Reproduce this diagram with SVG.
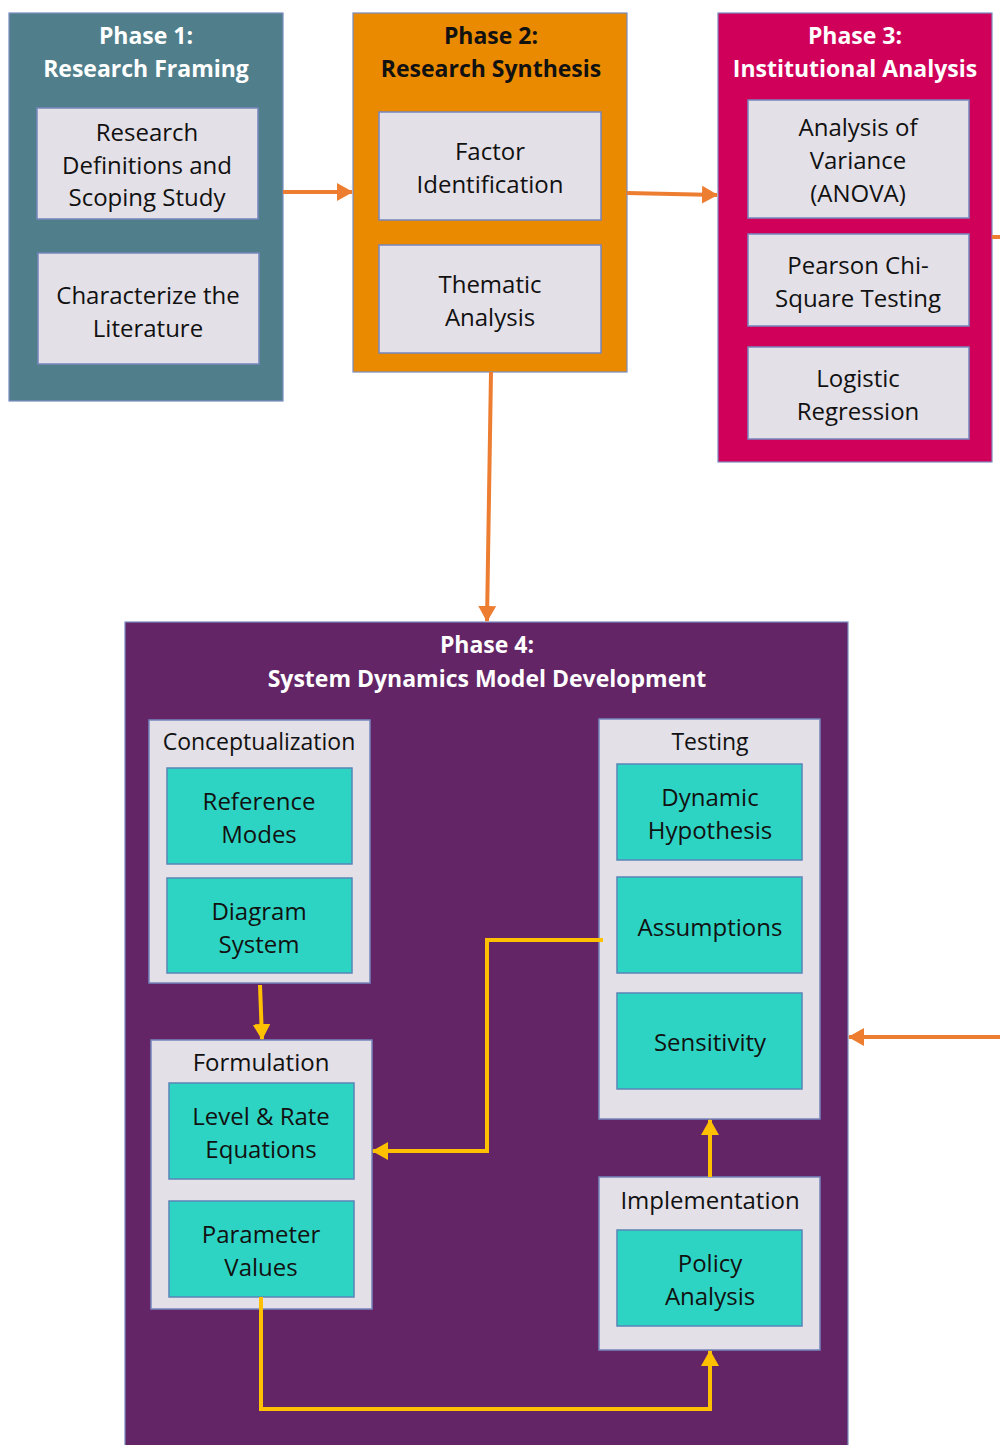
<svg xmlns="http://www.w3.org/2000/svg" width="1000" height="1445" viewBox="0 0 1000 1445">
<defs>
<style>
text{font-family:"Open Sans","Noto Sans","Liberation Sans",sans-serif;text-anchor:middle;dominant-baseline:central;}
.t{font-size:24px;fill:#111;}
.s{font-size:23px;}
.h{font-size:23px;font-weight:bold;}
.w{fill:#fff;}
.k{fill:#111;}
.phase{stroke:#7a8cc0;stroke-width:1.2;}
.card{fill:#e4e0e7;stroke:#7586bd;stroke-width:1.5;}
.teal{fill:#2ed4c3;stroke:#5a84b8;stroke-width:1.5;}
.or{fill:none;stroke:#ed7d31;stroke-width:4;}
.ye{fill:none;stroke:#ffc000;stroke-width:4;}
</style>
<marker id="ao" markerUnits="userSpaceOnUse" markerWidth="16" markerHeight="18" refX="15" refY="9" orient="auto"><path d="M0,0 L16,9 L0,18 z" fill="#ed7d31"/></marker>
<marker id="ay" markerUnits="userSpaceOnUse" markerWidth="16" markerHeight="18" refX="15" refY="9" orient="auto"><path d="M0,0 L16,9 L0,18 z" fill="#ffc000"/></marker>
</defs>
<rect width="1000" height="1445" fill="#fff"/>

<g id="phase1">
<rect class="phase" x="9" y="13" width="274" height="388" fill="#507f8b"/>
<text class="h w" x="146" y="35">Phase 1:</text>
<text class="h w" x="146" y="68">Research Framing</text>
<g id="p1-scoping"><rect class="card" x="37" y="108" width="221" height="111"/>
<text class="t" x="147" y="131">Research</text><text class="t" x="147" y="164">Definitions and</text><text class="t" x="147" y="196">Scoping Study</text></g>
<g id="p1-literature"><rect class="card" x="38" y="253" width="221" height="111"/>
<text class="t" x="148" y="294">Characterize the</text><text class="t" x="148" y="327">Literature</text></g>
</g>

<g id="phase2">
<rect class="phase" x="353" y="13" width="274" height="359" fill="#ea8a00"/>
<text class="h k" x="491" y="35">Phase 2:</text>
<text class="h k" x="491" y="68">Research Synthesis</text>
<g id="p2-factor"><rect class="card" x="379" y="112" width="222" height="108"/>
<text class="t" x="490" y="150">Factor</text><text class="t" x="490" y="183">Identification</text></g>
<g id="p2-thematic"><rect class="card" x="379" y="245" width="222" height="108"/>
<text class="t" x="490" y="283">Thematic</text><text class="t" x="490" y="316">Analysis</text></g>
</g>

<g id="phase3">
<rect class="phase" x="718" y="13" width="274" height="449" fill="#d0005a"/>
<text class="h w" x="855" y="35">Phase 3:</text>
<text class="h w" x="855" y="68">Institutional Analysis</text>
<g id="p3-anova"><rect class="card" x="748" y="100" width="221" height="118"/>
<text class="t" x="858" y="126">Analysis of</text><text class="t" x="858" y="159">Variance</text><text class="t" x="858" y="192">(ANOVA)</text></g>
<g id="p3-chi"><rect class="card" x="748" y="234" width="221" height="92"/>
<text class="t" x="858" y="264">Pearson Chi-</text><text class="t" x="858" y="297">Square Testing</text></g>
<g id="p3-logistic"><rect class="card" x="748" y="347" width="221" height="92"/>
<text class="t" x="858" y="377">Logistic</text><text class="t" x="858" y="410">Regression</text></g>
</g>

<g id="phase4">
<rect class="phase" x="125" y="622" width="723" height="830" fill="#632566"/>
<text class="h w" x="487" y="644">Phase 4:</text>
<text class="h w" x="487" y="678">System Dynamics Model Development</text>

<g id="conceptualization"><rect class="card" x="149" y="720" width="221" height="263"/>
<text class="t s" x="259" y="741">Conceptualization</text>
<g id="reference-modes"><rect class="teal" x="167" y="768" width="185" height="96"/>
<text class="t" x="259" y="800">Reference</text><text class="t" x="259" y="833">Modes</text></g>
<g id="diagram-system"><rect class="teal" x="167" y="878" width="185" height="95"/>
<text class="t" x="259" y="910">Diagram</text><text class="t" x="259" y="943">System</text></g>
</g>

<g id="formulation"><rect class="card" x="151" y="1040" width="221" height="269"/>
<text class="t" x="261" y="1061">Formulation</text>
<g id="level-rate"><rect class="teal" x="169" y="1083" width="185" height="96"/>
<text class="t" x="261" y="1115">Level &amp; Rate</text><text class="t" x="261" y="1148">Equations</text></g>
<g id="parameter-values"><rect class="teal" x="169" y="1201" width="185" height="96"/>
<text class="t" x="261" y="1233">Parameter</text><text class="t" x="261" y="1266">Values</text></g>
</g>

<g id="testing"><rect class="card" x="599" y="719" width="221" height="400"/>
<text class="t s" x="710" y="741">Testing</text>
<g id="dynamic-hypothesis"><rect class="teal" x="617" y="764" width="185" height="96"/>
<text class="t" x="710" y="796">Dynamic</text><text class="t" x="710" y="829">Hypothesis</text></g>
<g id="assumptions"><rect class="teal" x="617" y="877" width="185" height="96"/>
<text class="t" x="710" y="926">Assumptions</text></g>
<g id="sensitivity"><rect class="teal" x="617" y="993" width="185" height="96"/>
<text class="t" x="710" y="1041">Sensitivity</text></g>
</g>

<g id="implementation"><rect class="card" x="599" y="1177" width="221" height="173"/>
<text class="t" x="710" y="1199">Implementation</text>
<g id="policy-analysis"><rect class="teal" x="617" y="1230" width="185" height="96"/>
<text class="t" x="710" y="1262">Policy</text><text class="t" x="710" y="1295">Analysis</text></g>
</g>
</g>

<g id="connectors">
<path class="or" d="M283,192 L352,192" marker-end="url(#ao)"/>
<path class="or" d="M627,193 L717,195" marker-end="url(#ao)"/>
<path class="or" d="M992,237 L1002,237"/>
<path class="or" d="M491,372 L487,621" marker-end="url(#ao)"/>
<path class="or" d="M1002,1037 L849,1037" marker-end="url(#ao)"/>
<path class="ye" d="M260,985 L262,1039" marker-end="url(#ay)"/>
<path class="ye" d="M603,940 L487,940 L487,1151 L373,1151" marker-end="url(#ay)"/>
<path class="ye" d="M261,1297 L261,1409 L710,1409 L710,1351" marker-end="url(#ay)"/>
<path class="ye" d="M710,1177 L710,1120" marker-end="url(#ay)"/>
</g>
</svg>
